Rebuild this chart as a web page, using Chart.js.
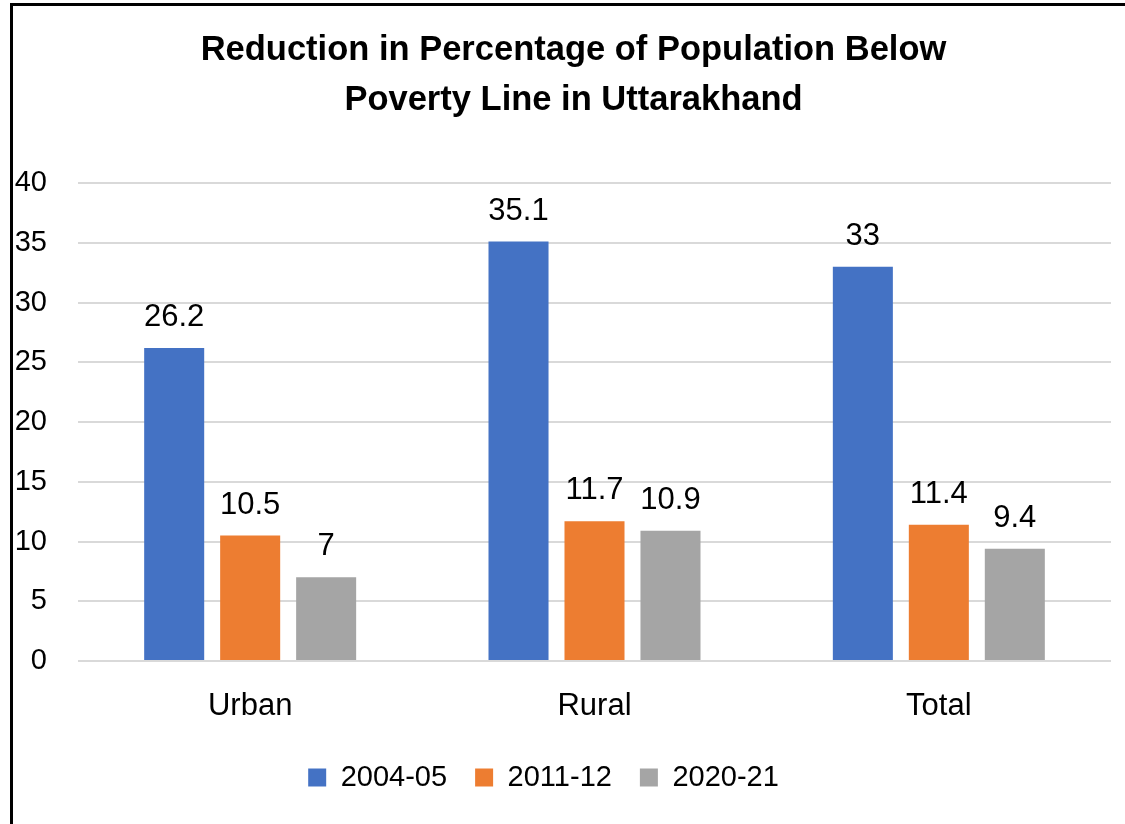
<!DOCTYPE html>
<html>
<head>
<meta charset="utf-8">
<script src="https://cdn.jsdelivr.net/npm/chart.js@4.4.1/dist/chart.umd.min.js"></script>
<style>
  html, body { margin: 0; padding: 0; background: #fff; }
  #wrap { position: relative; width: 1125px; height: 824px; overflow: hidden; }
  #frame { position: absolute; left: 10px; top: 3px; width: 1130px; height: 840px; border: 3px solid #000; box-sizing: border-box; }
  canvas { position: absolute; left: 0; top: 0; }
</style>
</head>
<body>
<div id="wrap">
  <div id="frame"></div>
  <canvas id="c" width="1125" height="824"></canvas>
</div>
<script>
const titleLines = ['Reduction in Percentage of Population Below', 'Poverty Line in Uttarakhand'];
const categories = ['Urban', 'Rural', 'Total'];
const seriesNames = ['2004-05', '2011-12', '2020-21'];
const values2004 = [26.2, 35.1, 33];
const values2011 = [10.5, 11.7, 11.4];
const values2020 = [7, 10.9, 9.4];
const yTicks = [0, 5, 10, 15, 20, 25, 30, 35, 40];
const colors = ['#4472C4', '#ED7D31', '#A5A5A5'];

const FONT = '"Liberation Sans", Arial, sans-serif';
const PLOT_BOTTOM = 661;
const LEGEND_SHIFT_X = -12;
const TITLE_SHIFT_X = 18;

const dataLabels = {
  id: 'dataLabels',
  afterDatasetsDraw(chart) {
    const ctx = chart.ctx;
    ctx.save();
    ctx.font = '31px ' + FONT;
    ctx.fillStyle = '#000';
    ctx.textAlign = 'center';
    ctx.textBaseline = 'bottom';
    chart.data.datasets.forEach((ds, i) => {
      const meta = chart.getDatasetMeta(i);
      meta.data.forEach((el, j) => {
        ctx.fillText(String(ds.data[j]), el.x, el.y - 15);
      });
    });
    ctx.restore();
  }
};

const boxShift = {
  id: 'boxShift',
  afterLayout(chart) {
    if (chart.legend) {
      chart.legend.left += LEGEND_SHIFT_X;
      chart.legend.right += LEGEND_SHIFT_X;
    }
    if (chart.titleBlock) {
      chart.titleBlock.left += TITLE_SHIFT_X;
      chart.titleBlock.right += TITLE_SHIFT_X;
    }
  }
};

new Chart(document.getElementById('c'), {
  type: 'bar',
  data: {
    labels: categories,
    datasets: [
      { label: seriesNames[0], data: values2004, backgroundColor: colors[0] },
      { label: seriesNames[1], data: values2011, backgroundColor: colors[1] },
      { label: seriesNames[2], data: values2020, backgroundColor: colors[2] }
    ]
  },
  options: {
    responsive: false,
    animation: false,
    devicePixelRatio: 1,
    layout: { padding: { left: 0, right: 14, top: 0, bottom: 22 } },
    datasets: { bar: { barPercentage: 0.79, categoryPercentage: 0.662 } },
    plugins: {
      title: {
        display: true,
        text: titleLines,
        color: '#000',
        font: { family: FONT, size: 34.5, weight: 'bold', lineHeight: 50 / 34.5 },
        padding: { top: 25, bottom: 58 }
      },
      legend: {
        position: 'bottom',
        labels: {
          color: '#000',
          font: { family: FONT, size: 29 },
          boxWidth: 18,
          boxHeight: 18,
          padding: 28
        }
      },
      tooltip: { enabled: false }
    },
    scales: {
      x: {
        afterFit(scale) {
          const lg = scale.chart.legend;
          const legendTop = 824 - 22 - (lg ? lg.height : 0);
          scale.height = Math.max(10, legendTop - PLOT_BOTTOM);
        },
        grid: { display: false, drawTicks: false },
        border: { display: false },
        ticks: { color: '#000', font: { family: FONT, size: 31 }, padding: 27 }
      },
      y: {
        min: 0,
        max: 40,
        afterBuildTicks(scale) { scale.ticks = yTicks.map(v => ({ value: v })); },
        afterFit(scale) { scale.width = 78; },
        grid: { color: '#D9D9D9', lineWidth: 2, drawTicks: false },
        border: { display: false },
        ticks: { color: '#000', font: { family: FONT, size: 29 }, padding: 31 }
      }
    }
  },
  plugins: [dataLabels, boxShift]
});
</script>
</body>
</html>
